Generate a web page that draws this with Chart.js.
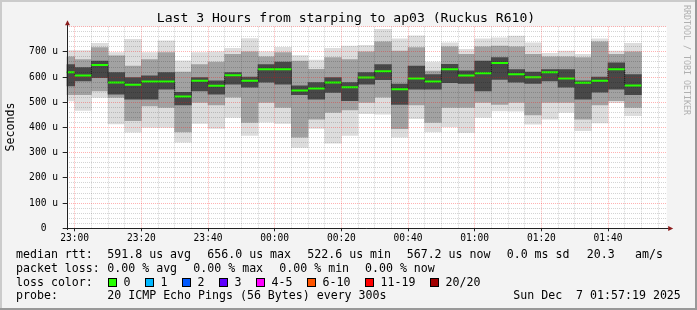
<!DOCTYPE html>
<html>
<head>
<meta charset="utf-8">
<script src="https://cdn.jsdelivr.net/npm/chart.js@4.4.1/dist/chart.umd.min.js"></script>
<style>
  html, body { margin: 0; padding: 0; background: #f3f3f3; }
  #wrap { width: 697px; height: 310px; }
</style>
</head>
<body>
<div id="wrap"><canvas id="chart" width="697" height="310"></canvas></div>
<script>
// 5 minute slots (start time of each slot)
const slots = ["22:55","23:00","23:05","23:10","23:15","23:20","23:25","23:30","23:35","23:40",
  "23:45","23:50","23:55","00:00","00:05","00:10","00:15","00:20","00:25","00:30",
  "00:35","00:40","00:45","00:50","00:55","01:00","01:05","01:10","01:15","01:20",
  "01:25","01:30","01:35","01:40","01:45"];

// median rtt in microseconds
const median = [619, 606, 648, 579, 570, 583, 583, 523, 586, 566,
  607, 586, 631, 631, 547, 555, 579, 560, 598, 623,
  552, 594, 583, 631, 606, 615, 656, 611, 599, 619,
  594, 578, 586, 631, 567];

// smoke: outer (light), middle and inner (dark) ping ranges, microseconds
const smokeOuterLo = [505, 468, 519, 414, 381, 400, 400, 342, 416, 396,
  440, 369, 421, 416, 321, 396, 338, 369, 455, 453,
  362, 435, 382, 402, 380, 440, 466, 465, 413, 433,
  460, 387, 418, 499, 447];
const smokeOuterHi = [705, 705, 734, 697, 750, 697, 744, 665, 697, 700,
  714, 753, 700, 718, 685, 668, 714, 723, 726, 790,
  752, 764, 660, 736, 710, 752, 756, 763, 736, 694,
  703, 690, 752, 703, 734];
const smokeMidLo = [530, 530, 545, 519, 427, 486, 480, 382, 500, 490,
  520, 420, 500, 480, 362, 433, 460, 470, 500, 520,
  395, 490, 420, 480, 480, 500, 492, 500, 450, 500,
  500, 433, 490, 506, 480];
const smokeMidHi = [680, 670, 717, 684, 644, 670, 697, 620, 650, 660,
  690, 700, 680, 697, 664, 631, 677, 670, 700, 740,
  703, 717, 624, 720, 690, 720, 723, 720, 690, 680,
  680, 677, 740, 690, 700];
const smokeInnerLo = [565, 585, 598, 532, 512, 512, 552, 490, 545, 532,
  572, 560, 580, 572, 530, 512, 539, 506, 572, 590,
  492, 552, 552, 578, 575, 545, 591, 580, 575, 585,
  560, 512, 540, 552, 530];
const smokeInnerHi = [650, 638, 664, 618, 598, 605, 618, 540, 598, 585,
  618, 600, 650, 660, 565, 578, 598, 578, 618, 650,
  572, 644, 610, 651, 625, 664, 677, 630, 620, 630,
  630, 585, 600, 657, 610];

const xTickLabels = ["23:00", "23:20", "23:40", "00:00", "00:20", "00:40", "01:00", "01:20", "01:40"];
const yTickValues = [0, 100, 200, 300, 400, 500, 600, 700];
const yTickLabels = ["0", "100 u", "200 u", "300 u", "400 u", "500 u", "600 u", "700 u"];

const lossBins = ["0", "1", "2", "3", "4-5", "6-10", "11-19", "20/20"];
const lossColors = ["#26ff00", "#00b8ff", "#0059ff", "#5e00ff", "#ff00ff", "#ff5500", "#ff0000", "#a10000"];

// minutes relative to midnight, evening hours negative
function toMin(s) {
  const p = s.split(":").map(Number);
  const v = p[0] * 60 + p[1] + (p[2] || 0) / 60;
  return p[0] >= 12 ? v - 1440 : v;
}

const viewStart = toMin("22:57:36");
const viewEnd = toMin("01:57:36");
const SLOT = 5;
const mono = '"DejaVu Sans Mono", monospace';

const centers = slots.map(s => toMin(s) + SLOT / 2);
const rangeData = (lo, hi) => centers.map((x, i) => ({ x: x, y: [lo[i], hi[i]] }));
const medianData = centers.map((x, i) => ({ x: x, y: median[i] }));

const xMajor = new Set(xTickLabels.map(toMin));
const yMajor = new Set(yTickValues.concat([800]));
const MAJOR = "rgba(255,0,0,0.3)";
const MINOR = "rgba(0,0,0,0.17)";

const smokeBar = {
  type: "bar", grouped: false, barPercentage: 1, categoryPercentage: 1, borderWidth: 0
};

const frame = {
  id: "frame",
  beforeDraw(chart) {
    const ctx = chart.ctx, a = chart.chartArea;
    ctx.save();
    ctx.fillStyle = "#f3f3f3";
    ctx.fillRect(0, 0, chart.width, chart.height);
    ctx.fillStyle = "#cbcbcb";
    ctx.fillRect(0, 0, chart.width, 2);
    ctx.fillRect(0, 0, 2, chart.height);
    ctx.fillStyle = "#999999";
    ctx.fillRect(0, chart.height - 2, chart.width, 2);
    ctx.fillRect(chart.width - 2, 0, 2, chart.height);
    ctx.fillStyle = "#ffffff";
    ctx.fillRect(a.left, a.top, a.right - a.left, a.bottom - a.top);
    ctx.restore();
  },
  afterDraw(chart) {
    const ctx = chart.ctx, a = chart.chartArea;
    ctx.save();
    // axes with arrows
    ctx.strokeStyle = "#222";
    ctx.lineWidth = 1;
    ctx.beginPath();
    ctx.moveTo(Math.round(a.left) + 0.5, Math.round(a.bottom) + 2);
    ctx.lineTo(Math.round(a.left) + 0.5, a.top - 4);
    ctx.moveTo(a.left - 3, Math.round(a.bottom) + 0.5);
    ctx.lineTo(a.right + 2, Math.round(a.bottom) + 0.5);
    ctx.stroke();
    ctx.fillStyle = "#8c1c1c";
    ctx.beginPath();
    const ax = Math.round(a.left) + 0.5;
    ctx.moveTo(ax - 2.5, a.top - 1.5); ctx.lineTo(ax + 2.5, a.top - 1.5); ctx.lineTo(ax, a.top - 6.5);
    ctx.closePath(); ctx.fill();
    const ay = Math.round(a.bottom) + 0.5;
    ctx.beginPath();
    ctx.moveTo(a.right + 1.5, ay - 2.5); ctx.lineTo(a.right + 1.5, ay + 2.5); ctx.lineTo(a.right + 6.5, ay);
    ctx.closePath(); ctx.fill();

    // title
    ctx.fillStyle = "#000";
    ctx.textBaseline = "middle";
    ctx.textAlign = "center";
    ctx.font = "13.1px " + mono;
    ctx.fillText("Last 3 Hours from starping to ap03 (Ruckus R610)", 346, 19);

    // y axis title
    ctx.font = "11.6px " + mono;
    ctx.save();
    ctx.translate(11, 127);
    ctx.rotate(-Math.PI / 2);
    ctx.fillText("Seconds", 0, 0);
    ctx.restore();

    // watermark
    ctx.save();
    ctx.fillStyle = "#b0b0b0";
    ctx.font = "8.3px " + mono;
    ctx.translate(686.5, 60);
    ctx.rotate(Math.PI / 2);
    ctx.fillText("RRDTOOL / TOBI OETIKER", 0, 0);
    ctx.restore();

    // legend
    ctx.textAlign = "left";
    ctx.fillStyle = "#000";
    ctx.font = "11.6px " + mono;
    const rows = [
      [16, 255, "median rtt:"], [107.3, 255, "591.8 us avg"], [207.3, 255, "656.0 us max"],
      [307.3, 255, "522.6 us min"], [406.7, 255, "567.2 us now"], [506.7, 255, "0.0 ms sd"],
      [586.7, 255, "20.3"], [635, 255, "am/s"],
      [16, 268.5, "packet loss:"], [107.3, 268.5, "0.00 % avg"], [193.3, 268.5, "0.00 % max"],
      [279.3, 268.5, "0.00 % min"], [365, 268.5, "0.00 % now"],
      [16, 282.5, "loss color:"],
      [16, 296, "probe:"], [107.3, 296, "20 ICMP Echo Pings (56 Bytes) every 300s"],
      [513.3, 296, "Sun Dec  7 01:57:19 2025"]
    ];
    rows.forEach(r => ctx.fillText(r[2], r[0], r[1]));
    const boxX = [108.5, 145.5, 182.5, 219.5, 256.5, 307.5, 365.5, 430.5];
    lossBins.forEach((b, i) => {
      ctx.fillStyle = lossColors[i];
      ctx.fillRect(boxX[i], 278.5, 8, 8);
      ctx.strokeStyle = "#000";
      ctx.strokeRect(boxX[i], 278.5, 8, 8);
      ctx.fillStyle = "#000";
      ctx.fillText(b, boxX[i] + 15, 282.5);
    });
    ctx.restore();
  }
};

new Chart(document.getElementById("chart"), {
  type: "bar",
  data: {
    datasets: [
      {
        type: "line", data: medianData, showLine: false, clip: 0, order: 0,
        pointStyle: "line", pointRadius: 8.33, pointBorderWidth: 2,
        pointBorderColor: "#26ff00", pointBackgroundColor: "#26ff00"
      },
      {
        type: "line", data: medianData, stepped: "middle", clip: 0, order: 1,
        borderColor: "#1a1a1a", borderWidth: 1, borderDash: [1, 1], pointRadius: 0
      },
      Object.assign({ data: rangeData(smokeInnerLo, smokeInnerHi), backgroundColor: "#484848", order: 2 }, smokeBar),
      Object.assign({ data: rangeData(smokeMidLo, smokeMidHi), backgroundColor: "#a2a2a2", order: 3 }, smokeBar),
      Object.assign({ data: rangeData(smokeOuterLo, smokeOuterHi), backgroundColor: "#dddddd", order: 4 }, smokeBar)
    ]
  },
  options: {
    responsive: false,
    animation: false,
    events: [],
    devicePixelRatio: 1,
    layout: { padding: { left: 0, top: 26.7, right: 30.3, bottom: 0 } },
    plugins: { legend: { display: false }, tooltip: { enabled: false } },
    scales: {
      x: {
        type: "linear", min: viewStart, max: viewEnd, offset: false,
        afterBuildTicks(s) {
          const t = [];
          for (let v = toMin(xTickLabels[0]); v <= s.max; v += SLOT) t.push({ value: v });
          s.ticks = t;
        },
        afterFit(s) { s.height = 310 - 228.3; },
        grid: {
          z: 1, offset: false, lineWidth: 1, tickLength: 3,
          color: c => xMajor.has(c.tick.value) ? MAJOR : MINOR,
          tickColor: c => xMajor.has(c.tick.value) ? "#222" : "rgba(0,0,0,0)"
        },
        border: { display: false, dash: [1, 1] },
        ticks: {
          autoSkip: false, maxRotation: 0, minRotation: 0, padding: 1.5, color: "#000",
          font: { family: mono, size: 9.6 },
          callback(v) {
            const i = xTickLabels.findIndex(l => toMin(l) === v);
            return i >= 0 ? xTickLabels[i] : "";
          }
        }
      },
      y: {
        type: "linear", min: 0, max: 800,
        afterBuildTicks(s) {
          const t = [];
          for (let v = 0; v <= 800; v += 20) t.push({ value: v });
          s.ticks = t;
        },
        afterFit(s) { s.width = 66.7; },
        grid: {
          z: 1, lineWidth: 1, tickLength: 4,
          color: c => yMajor.has(c.tick.value) ? MAJOR : MINOR,
          tickColor: c => yTickValues.includes(c.tick.value) ? "#222" : "rgba(0,0,0,0)"
        },
        border: { display: false, dash: [1, 1] },
        ticks: {
          autoSkip: false, padding: 4.7, crossAlign: "center", color: "#000",
          font: { family: mono, size: 9.6 },
          callback(v) {
            const i = yTickValues.indexOf(v);
            return i >= 0 ? yTickLabels[i] : "";
          }
        }
      }
    }
  },
  plugins: [frame]
});
</script>
</body>
</html>
